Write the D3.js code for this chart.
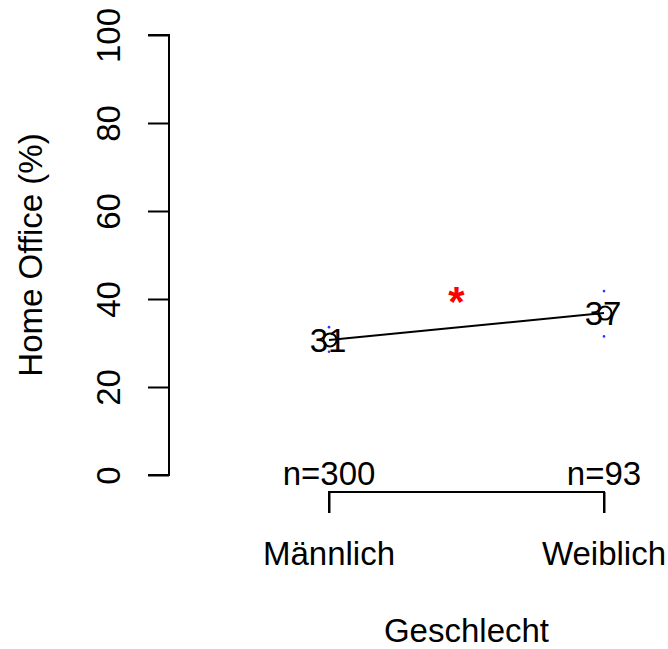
<!DOCTYPE html>
<html>
<head>
<meta charset="utf-8">
<script src="https://cdn.jsdelivr.net/npm/d3@7"></script>
<style>
  body { margin: 0; background: #fff; }
  svg { display: block; font-family: "Liberation Sans", Arial, Helvetica, sans-serif; }
</style>
</head>
<body>
<div id="chart"></div>
<script>
const categories = ["Männlich", "Weiblich"];
const means = [30.7, 36.8];
const meanLabels = ["31", "37"];
const ciLow = [28.0, 31.5];
const ciHigh = [33.6, 41.8];
const counts = [300, 93];
const yTicks = [0, 20, 40, 60, 80, 100];

const width = 668, height = 649;
const fs = 33;

const svg = d3.select("#chart").append("svg")
  .attr("width", width)
  .attr("height", height);

const x = d3.scalePoint().domain(categories).range([329, 604]);
const y = d3.scaleLinear().domain([0, 100]).range([475, 35]);

// y axis
const yAxis = svg.append("g")
  .attr("transform", "translate(169,0)")
  .call(d3.axisLeft(y).tickValues(yTicks).tickSize(21).tickPadding(0).tickFormat(d3.format("d")));
yAxis.select(".domain").attr("d", `M-21,${y(0)}H0V${y(100)}H-21`).attr("stroke", "#000").attr("stroke-width", 2);
yAxis.selectAll(".tick line").attr("stroke", "#000").attr("stroke-width", 2);
yAxis.selectAll(".tick text")
  .attr("font-size", fs)
  .attr("fill", "#000")
  .attr("font-family", "Liberation Sans, Arial, sans-serif")
  .attr("transform", "translate(-49,0) rotate(-90)")
  .attr("x", 0).attr("dy", 0).attr("y", 0)
  .attr("text-anchor", "middle");

svg.append("text")
  .attr("transform", `translate(42,${(y(0) + y(100)) / 2}) rotate(-90)`)
  .attr("text-anchor", "middle")
  .attr("font-size", fs)
  .text("Home Office (%)");

// x axis
const xAxisY = 492;
const xAxis = svg.append("g")
  .attr("transform", `translate(0,${xAxisY})`)
  .call(d3.axisBottom(x).tickSize(21).tickPadding(0).tickFormat(""));
xAxis.select(".domain").attr("d", `M${x(categories[0])},21V0H${x(categories[1])}V21`).attr("stroke", "#000").attr("stroke-width", 2);
xAxis.selectAll(".tick line").attr("stroke", "#000").attr("stroke-width", 2);

svg.selectAll(".catlab")
  .data(categories)
  .join("text")
  .attr("x", d => x(d))
  .attr("y", 565)
  .attr("text-anchor", "middle")
  .attr("font-size", fs)
  .text(d => d);

svg.selectAll(".nlab")
  .data(counts)
  .join("text")
  .attr("x", (d, i) => x(categories[i]))
  .attr("y", 485)
  .attr("text-anchor", "middle")
  .attr("font-size", fs)
  .text(d => "n=" + d);

svg.append("text")
  .attr("x", (x(categories[0]) + x(categories[1])) / 2)
  .attr("y", 642)
  .attr("text-anchor", "middle")
  .attr("font-size", fs)
  .text("Geschlecht");

// line between means
svg.append("path")
  .datum(means)
  .attr("fill", "none")
  .attr("stroke", "#000")
  .attr("stroke-width", 2)
  .attr("d", d3.line().x((d, i) => x(categories[i])).y(d => y(d)));

// CI end dots
categories.forEach((c, i) => {
  [ciLow[i], ciHigh[i]].forEach(v => {
    svg.append("circle")
      .attr("cx", x(c))
      .attr("cy", y(v))
      .attr("r", 1.3)
      .attr("fill", "#3333ff");
  });
});

// open point markers
svg.selectAll(".pt")
  .data(means)
  .join("circle")
  .attr("cx", (d, i) => x(categories[i]) + 1)
  .attr("cy", d => y(d))
  .attr("r", 6.5)
  .attr("fill", "none")
  .attr("stroke", "#000")
  .attr("stroke-width", 2);

// mean labels
svg.selectAll(".mlab")
  .data(means)
  .join("text")
  .attr("x", (d, i) => x(categories[i]) - 1)
  .attr("y", d => y(d) + 12)
  .attr("text-anchor", "middle")
  .attr("font-size", fs)
  .text((d, i) => meanLabels[i]);

// significance mark
svg.append("text")
  .attr("x", (x(categories[0]) + x(categories[1])) / 2 - 10)
  .attr("y", y(40.5) + 19)
  .attr("text-anchor", "middle")
  .attr("font-size", 42)
  .attr("font-weight", "bold")
  .attr("fill", "#ff0000")
  .text("*");
</script>
</body>
</html>
